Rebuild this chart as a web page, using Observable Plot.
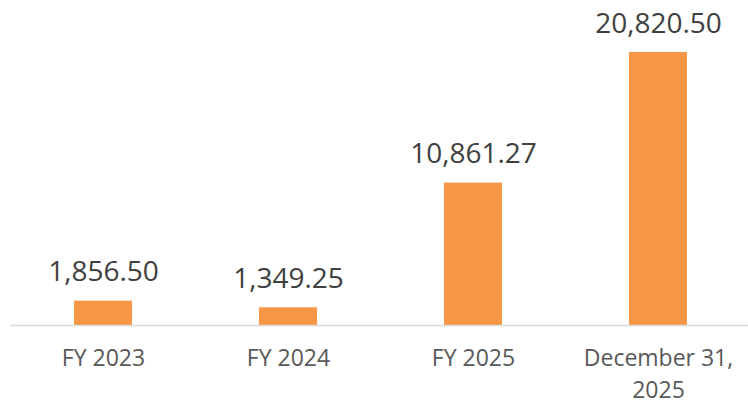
<!DOCTYPE html>
<html>
<head>
<meta charset="utf-8">
<script src="https://cdn.jsdelivr.net/npm/d3@7"></script>
<script src="https://cdn.jsdelivr.net/npm/@observablehq/plot@0.6"></script>
<style>
  html, body { margin: 0; padding: 0; background: #fff; }
  #chart svg { display: block; font-family: "Open Sans", sans-serif; }
</style>
</head>
<body>
<div id="chart"></div>
<script>
const categories = ["FY 2023", "FY 2024", "FY 2025", "December 31,\n2025"];
const values = [1856.50, 1349.25, 10861.27, 20820.50];
const valueLabels = ["1,856.50", "1,349.25", "10,861.27", "20,820.50"];

const data = categories.map((c, i) => ({category: c, value: values[i], label: valueLabels[i]}));

const chart = Plot.plot({
  width: 748,
  height: 407,
  marginLeft: 10,
  marginRight: 0,
  marginTop: 0,
  marginBottom: 82,
  style: {fontFamily: "'Open Sans', sans-serif", background: "#fff"},
  x: {domain: categories, range: [10, 751], paddingInner: 0.687, paddingOuter: 0.3435, label: null},
  y: {domain: [0, 25000], range: [325, -2.8], axis: null},
  marks: [
    Plot.barY(data, {x: "category", y: "value", fill: "#F79646"}),
    Plot.ruleY([0], {stroke: "#d9d9d9", strokeWidth: 1.5}),
    Plot.text(data, {x: "category", y: "value", text: "label", dy: -20, lineAnchor: "bottom", fontSize: 28, fill: "#404040"}),
    Plot.axisX({tickSize: 0, tickPadding: 18, fontSize: 23, lineHeight: 1.39, color: "#595959", label: null})
  ]
});
document.getElementById("chart").appendChild(chart);
</script>
</body>
</html>
